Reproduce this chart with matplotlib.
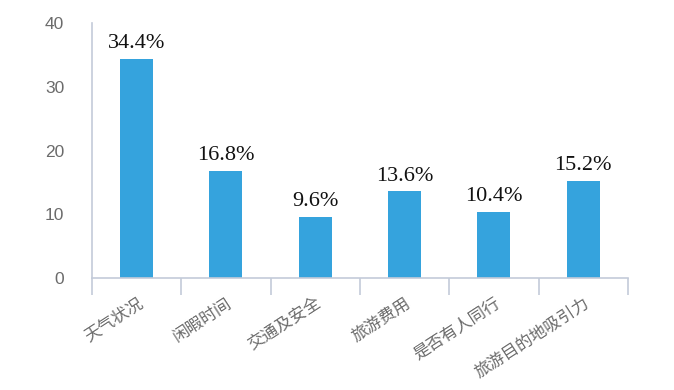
import matplotlib.pyplot as plt
import numpy as np

plt.rcParams['font.family'] = ['Noto Sans CJK SC', 'DejaVu Sans']

categories = ['天气状况', '闲暇时间', '交通及安全', '旅游费用', '是否有人同行', '旅游目的地吸引力']
values = [34.4, 16.8, 9.6, 13.6, 10.4, 15.2]
labels = ['34.4%', '16.8%', '9.6%', '13.6%', '10.4%', '15.2%']

bar_color = '#35a3dd'
axis_color = '#c3cbd9'
text_color = '#6b6b6b'

fig = plt.figure(figsize=(6.74, 3.90), dpi=100)
ax = fig.add_axes([0.1365, 0.287, 0.795, 0.654])

x = np.arange(len(categories))
ax.bar(x, values, width=0.37, color=bar_color)

for xi, v, lab in zip(x, values, labels):
    ax.text(xi, v + 0.9, lab, ha='center', va='bottom', fontsize=16,
            family='Liberation Serif', color='#111111')

ax.set_xlim(-0.5, len(categories) - 0.5)
ax.set_ylim(0, 40)
ax.set_yticks([0, 10, 20, 30, 40])
ax.tick_params(axis='y', length=0, pad=20, labelsize=12.5, labelcolor=text_color)
for t in ax.get_yticklabels():
    t.set_family('Liberation Sans')

ax.set_xticks(x)
ax.set_xticklabels(categories, rotation=33, ha='right', va='top',
                   rotation_mode='anchor', fontsize=12, color=text_color)
ax.tick_params(axis='x', length=0, pad=12)

# boundary ticks between categories
ax.set_xticks(np.arange(-0.5, len(categories)), minor=True)
ax.tick_params(axis='x', which='minor', length=12, width=1.2, color=axis_color, direction='out')

for s in ['top', 'right']:
    ax.spines[s].set_visible(False)
ax.spines['left'].set_color(axis_color)
ax.spines['bottom'].set_color(axis_color)
ax.spines['left'].set_linewidth(1.2)
ax.spines['bottom'].set_linewidth(1.2)

fig.savefig('out.png', dpi=100)
